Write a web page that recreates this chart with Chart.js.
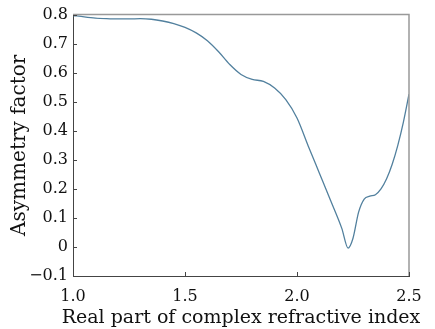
<!DOCTYPE html>
<html>
<head>
<meta charset="utf-8">
<script src="https://cdn.jsdelivr.net/npm/chart.js@4/dist/chart.umd.min.js"></script>
<style>
  html, body { margin: 0; padding: 0; background: #fff; }
  #wrap { width: 435px; height: 329px; }
</style>
</head>
<body>
<div id="wrap"><canvas id="myChart"></canvas></div>
<script>
// real part of the refractive index and the asymmetry factor g
const realPart = [1.00, 1.05, 1.10, 1.15, 1.20, 1.25, 1.30, 1.35, 1.40, 1.45, 1.50,
  1.55, 1.60, 1.65, 1.70, 1.75, 1.80, 1.85, 1.90, 1.95, 2.00, 2.05, 2.10, 2.15,
  2.20, 2.228, 2.25, 2.275, 2.30, 2.325, 2.35, 2.375, 2.40, 2.425, 2.45, 2.475, 2.50]
const asymmetry = [0.797, 0.792, 0.788, 0.786, 0.785, 0.785, 0.786, 0.784, 0.778, 0.769, 0.756,
  0.737, 0.710, 0.672, 0.628, 0.594, 0.577, 0.570, 0.547, 0.507, 0.444, 0.348, 0.254, 0.160,
  0.064, -0.004, 0.030, 0.120, 0.165, 0.175, 0.180, 0.200, 0.235, 0.285, 0.350, 0.430, 0.526]

const xTicks = [1.0, 1.5, 2.0, 2.5]
const yTicks = [-0.1, 0, 0.1, 0.2, 0.3, 0.4, 0.5, 0.6, 0.7, 0.8]
const xTitle = 'Real part of complex refractive index'

const points = realPart.map((x, i) => ({ x: x, y: asymmetry[i] }))
const serif = "'DejaVu Serif', serif"

// short inward ticks, the lighter top/right frame and the x title
// (drawn here so it is not squeezed to the axis width)
const frame = {
  id: 'frame',
  afterDraw(chart) {
    const ctx = chart.ctx
    const a = chart.chartArea
    const xs = chart.scales.x
    const ys = chart.scales.y
    ctx.save()
    ctx.strokeStyle = '#999'
    ctx.lineWidth = 1.5
    ctx.beginPath()
    ctx.moveTo(a.left, a.top)
    ctx.lineTo(a.right, a.top)
    ctx.lineTo(a.right, a.bottom)
    ctx.stroke()
    ctx.strokeStyle = '#444'
    ctx.lineWidth = 1
    ctx.beginPath()
    xTicks.forEach(v => {
      const px = Math.round(xs.getPixelForValue(v)) + 0.5
      ctx.moveTo(px, a.bottom)
      ctx.lineTo(px, a.bottom - 4)
    })
    yTicks.forEach(v => {
      const py = Math.round(ys.getPixelForValue(v)) + 0.5
      ctx.moveTo(a.left, py)
      ctx.lineTo(a.left + 4, py)
    })
    ctx.stroke()

    ctx.fillStyle = '#111'
    ctx.font = '19px ' + serif
    ctx.textAlign = 'center'
    ctx.textBaseline = 'middle'
    ctx.fillText(xTitle, (a.left + a.right) / 2, 318)
    ctx.restore()
  }
}

const config = {
  type: 'line',
  data: {
    datasets: [{
      data: points,
      borderColor: '#52809e',
      borderWidth: 1.3,
      pointRadius: 0,
      cubicInterpolationMode: 'monotone',
      fill: false
    }]
  },
  options: {
    responsive: true,
    maintainAspectRatio: false,
    animation: false,
    layout: { padding: { top: 13, right: 26, left: 0, bottom: 0 } },
    plugins: { legend: { display: false }, tooltip: { enabled: false } },
    scales: {
      x: {
        type: 'linear',
        min: 1.0,
        max: 2.5,
        afterBuildTicks: s => { s.ticks = xTicks.map(v => ({ value: v })) },
        afterFit: s => { s.height = 53 },
        grid: { display: false, drawTicks: false },
        border: { display: true, color: '#444', width: 1 },
        ticks: {
          padding: 11,
          color: '#111',
          font: { family: serif, size: 16 },
          maxRotation: 0,
          callback: v => v.toFixed(1)
        },
        title: { display: false }
      },
      y: {
        type: 'linear',
        min: -0.1,
        max: 0.8,
        afterBuildTicks: s => { s.ticks = yTicks.map(v => ({ value: v })) },
        afterFit: s => { s.width = 73 },
        grid: { display: false, drawTicks: false },
        border: { display: true, color: '#444', width: 1 },
        ticks: {
          padding: 5,
          color: '#111',
          font: { family: serif, size: 16 },
          callback: v => {
            const r = Math.round(v * 10) / 10
            if (r === 0) return '0'
            return r < 0 ? '\u2212' + Math.abs(r).toFixed(1) : r.toFixed(1)
          }
        },
        title: {
          display: true,
          text: 'Asymmetry factor',
          color: '#111',
          font: { family: serif, size: 20 },
          padding: { top: 8, bottom: 0 }
        }
      }
    }
  },
  plugins: [frame]
}

const myChart = new Chart(document.getElementById('myChart'), config)
</script>
</body>
</html>
